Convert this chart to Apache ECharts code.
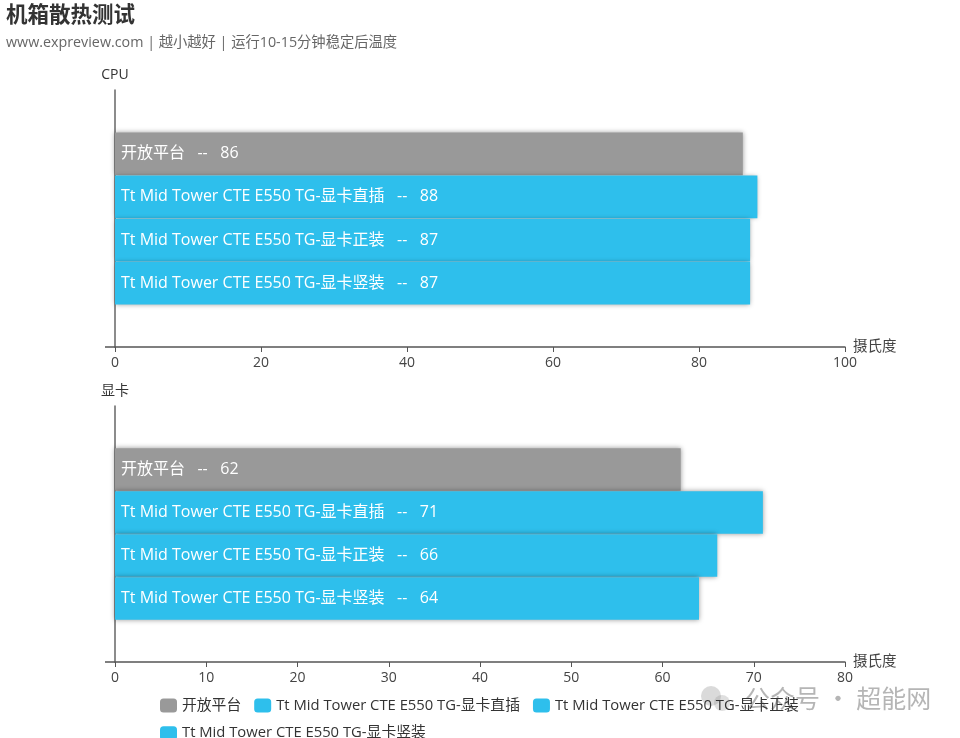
<!DOCTYPE html>
<html>
<head>
<meta charset="utf-8">
<style>
  html, body { margin: 0; padding: 0; background: #fff; }
  #main { width: 960px; height: 738px; }
</style>
<script src="https://cdn.jsdelivr.net/npm/echarts@6/dist/echarts.min.js"></script>
</head>
<body>
<div id="main"></div>
<script>
  var seriesNames = ['开放平台', 'Tt Mid Tower CTE E550 TG-显卡直插', 'Tt Mid Tower CTE E550 TG-显卡正装', 'Tt Mid Tower CTE E550 TG-显卡竖装'];
  var seriesColors = ['#999999', '#2ebfec', '#2ebfec', '#2ebfec'];
  var cpuValues = [86, 88, 87, 87];
  var gpuValues = [62, 71, 66, 64];
  var panelNames = ['CPU', '显卡'];
  var axisMax = [100, 80];
  var axisStep = [20, 10];
  var unitName = '摄氏度';

  var font = '"Open Sans", "Noto Sans CJK SC", sans-serif';
  var gridLeft = 115;
  var axisBottoms = [347, 662];
  var chart = echarts.init(document.getElementById('main'), null, { renderer: 'canvas' });

  function makeSeries(values, panel) {
    return values.map(function (value, index) {
      return {
        name: seriesNames[index],
        type: 'bar',
        xAxisIndex: panel,
        yAxisIndex: panel,
        barGap: '1%',
        barCategoryGap: '33%',
        itemStyle: {
          color: seriesColors[index],
          shadowBlur: 5,
          shadowColor: 'rgba(0,0,0,.4)'
        },
        label: {
          show: true,
          position: 'insideLeft',
          distance: 6,
          formatter: '{a}   --   {c}',
          color: '#fff',
          fontFamily: font,
          fontSize: 16
        },
        data: [value]
      };
    });
  }

  function makeXAxis(panel) {
    return {
      type: 'value',
      gridIndex: panel,
      position: 'bottom',
      min: 0,
      max: axisMax[panel],
      interval: axisStep[panel],
      name: unitName,
      nameGap: 8,
      nameMoveOverlap: false,
      nameTextStyle: { color: '#444', fontFamily: font, fontSize: 14.5, padding: [0, 0, 3, 0] },
      splitLine: { show: false },
      axisLine: { show: true, lineStyle: { color: '#555', width: 1.5 } },
      axisTick: { show: true, length: 5, lineStyle: { color: '#555' } },
      axisLabel: { color: '#444', fontFamily: font, fontSize: 14, margin: 9 }
    };
  }

  function makeYAxis(panel) {
    return {
      type: 'category',
      gridIndex: panel,
      inverse: true,
      data: [panelNames[panel]],
      name: panelNames[panel],
      nameLocation: 'start',
      nameGap: 8,
      nameTextStyle: { color: '#333', fontFamily: font, fontSize: 14 },
      axisLine: { show: true, lineStyle: { color: '#666', width: 1.5 } },
      axisTick: { show: false },
      axisLabel: { show: false }
    };
  }

  // 纵轴只在底部有一小段刻度
  function bottomTick(y) {
    return {
      type: 'line',
      silent: true,
      shape: { x1: gridLeft - 10, y1: y, x2: gridLeft, y2: y },
      style: { stroke: '#555', lineWidth: 1.5 }
    };
  }

  chart.setOption({
    backgroundColor: '#fff',
    animation: false,
    title: {
      text: '机箱散热测试',
      subtext: 'www.expreview.com | 越小越好 | 运行10-15分钟稳定后温度',
      left: 6,
      top: 5,
      padding: 0,
      itemGap: 9,
      textStyle: { color: '#333', fontFamily: font, fontSize: 21.5, fontWeight: 'bold' },
      subtextStyle: { color: '#666', fontFamily: font, fontSize: 14.3 }
    },
    legend: {
      left: 155,
      top: 693,
      width: 700,
      itemWidth: 17,
      itemHeight: 14,
      itemGap: 13,
      icon: 'roundRect',
      textStyle: { color: '#333', fontFamily: font, fontSize: 14.8 },
      data: seriesNames
    },
    grid: [
      { left: gridLeft, right: 115, top: 90, height: 257 },
      { left: gridLeft, right: 115, top: 406, height: 256 }
    ],
    xAxis: [makeXAxis(0), makeXAxis(1)],
    yAxis: [makeYAxis(0), makeYAxis(1)],
    series: makeSeries(cpuValues, 0).concat(makeSeries(gpuValues, 1)),
    graphic: [
      bottomTick(axisBottoms[0]),
      bottomTick(axisBottoms[1]),
      {
        type: 'circle',
        silent: true,
        shape: { cx: 711, cy: 696, r: 10 },
        style: { fill: 'rgba(150,150,150,.35)' }
      },
      {
        type: 'circle',
        silent: true,
        shape: { cx: 722, cy: 703, r: 8 },
        style: { fill: 'rgba(150,150,150,.3)' }
      },
      {
        type: 'text',
        silent: true,
        left: 745,
        top: 686,
        style: { text: '公众号 · 超能网', fill: 'rgba(120,120,120,.55)', font: '25px "Noto Sans CJK SC", sans-serif' }
      }
    ]
  });
</script>
</body>
</html>
